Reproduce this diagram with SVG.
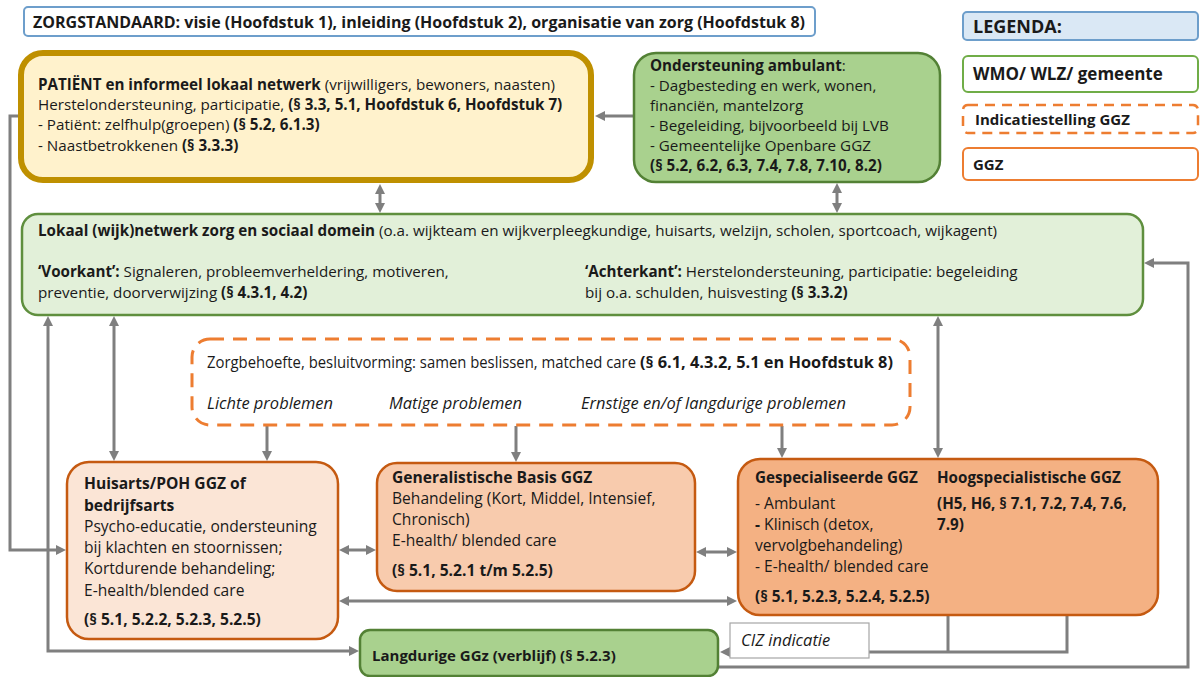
<svg xmlns="http://www.w3.org/2000/svg" width="1200" height="677" viewBox="0 0 1200 677">
<style>
text{font-family:"Open Sans","Liberation Sans",sans-serif;font-size:15.2px;fill:#1a1a1a}
.b{font-weight:bold}
.i{font-style:italic}
.m{font-size:15.6px}
.c{fill:none;stroke:#7f7f7f;stroke-width:3}
.ca{fill:none;stroke:#7f7f7f;stroke-width:3;marker-end:url(#ah)}
.cd{fill:none;stroke:#7f7f7f;stroke-width:3;marker-start:url(#ah);marker-end:url(#ah)}
.ggz{stroke:#c55a11;stroke-width:2.5}
.grn{fill:#a9d18e;stroke:#538135;stroke-width:2.5}
</style>
<defs>
<marker id="ah" markerUnits="userSpaceOnUse" markerWidth="11" markerHeight="10" refX="6" refY="5" orient="auto-start-reverse">
<path d="M0,0 L10,5 L0,10 z" fill="#7f7f7f"/>
</marker>
</defs>

<g id="connectors">
<path class="ca" d="M18,116 H10 V550 H62"/>
<path class="ca" d="M634,116 H599"/>
<path class="cd" d="M380,188 V209"/>
<path class="cd" d="M837,187 V209"/>
<path class="cd" d="M48,320 V651 H355"/>
<path class="cd" d="M114,320 V457"/>
<path class="ca" d="M267,426 V457"/>
<path class="ca" d="M516,426 V458"/>
<path class="ca" d="M782,426 V454"/>
<path class="cd" d="M938,320 V454"/>
<path class="cd" d="M343,550 H372"/>
<path class="cd" d="M700,552 H733"/>
<path class="cd" d="M343,601 H733"/>
<path class="c" d="M948,615 V652"/>
<path class="ca" d="M1067,615 V652 H724"/>
<path class="ca" d="M718,667 H1188 V263 H1148"/>
</g>

<g id="title">
<rect x="24" y="7" width="791" height="29" rx="4" fill="#fff" stroke="#6d9ecb" stroke-width="2"/>
<text x="33" y="28" class="b" style="font-size:16px" textLength="772" lengthAdjust="spacingAndGlyphs">ZORGSTANDAARD: visie (Hoofdstuk 1), inleiding (Hoofdstuk 2), organisatie van zorg (Hoofdstuk 8)</text>
</g>

<g id="legend-legenda">
<rect x="963" y="12" width="235" height="28" rx="4" fill="#dae8f5" stroke="#6d9ecb" stroke-width="2"/>
<text x="973" y="33" class="b" style="font-size:18px">LEGENDA:</text>
</g>
<g id="legend-wmo">
<rect x="963" y="56" width="235" height="36" rx="5" fill="#fff" stroke="#70ad47" stroke-width="2"/>
<text x="973" y="80" class="b" style="font-size:17px">WMO/ WLZ/ gemeente</text>
</g>
<g id="legend-indicatie">
<rect x="963" y="105" width="235" height="28" rx="5" fill="#fff" stroke="#ed7d31" stroke-width="2.5" stroke-dasharray="10,7"/>
<text x="975" y="125" class="b" style="font-size:15px">Indicatiestelling GGZ</text>
</g>
<g id="legend-ggz">
<rect x="963" y="148" width="235" height="32" rx="5" fill="#fff" stroke="#ed7d31" stroke-width="2"/>
<text x="973" y="170" class="b" style="font-size:15px">GGZ</text>
</g>

<g id="patient">
<rect x="21" y="53" width="570" height="127" rx="22" fill="#fff2cc" stroke="#bf9000" stroke-width="6"/>
<text x="38" y="90"><tspan class="b">PATIËNT en informeel lokaal netwerk</tspan> (vrijwilligers, bewoners, naasten)</text>
<text x="38" y="110">Herstelondersteuning, participatie, <tspan class="b">(§ 3.3, 5.1, Hoofdstuk 6, Hoofdstuk 7)</tspan></text>
<text x="38" y="130">- Patiënt: zelfhulp(groepen) <tspan class="b">(§ 5.2, 6.1.3)</tspan></text>
<text x="38" y="151">- Naastbetrokkenen <tspan class="b">(§ 3.3.3)</tspan></text>
</g>

<g id="ondersteuning">
<rect x="634" y="53" width="306" height="129" rx="22" class="grn"/>
<text x="650" y="71"><tspan class="b">Ondersteuning ambulant</tspan>:</text>
<text x="650" y="91">- Dagbesteding en werk, wonen,</text>
<text x="650" y="111">financiën, mantelzorg</text>
<text x="650" y="131">- Begeleiding, bijvoorbeeld bij LVB</text>
<text x="650" y="151">- Gemeentelijke Openbare GGZ</text>
<text x="650" y="171" class="b">(§ 5.2, 6.2, 6.3, 7.4, 7.8, 7.10, 8.2)</text>
</g>

<g id="lokaal">
<rect x="22" y="214" width="1121" height="101" rx="16" fill="#e2f0d9" stroke="#5f8f3e" stroke-width="2.5"/>
<text x="38" y="236"><tspan class="b">Lokaal (wijk)netwerk zorg en sociaal domein</tspan> (o.a. wijkteam en wijkverpleegkundige, huisarts, welzijn, scholen, sportcoach, wijkagent)</text>
<text x="38" y="277"><tspan class="b">‘Voorkant’:</tspan> Signaleren, probleemverheldering, motiveren,</text>
<text x="38" y="298">preventie, doorverwijzing <tspan class="b">(§ 4.3.1, 4.2)</tspan></text>
<text x="585" y="277"><tspan class="b">‘Achterkant’:</tspan> Herstelondersteuning, participatie: begeleiding</text>
<text x="585" y="298">bij o.a. schulden, huisvesting <tspan class="b">(§ 3.3.2)</tspan></text>
</g>

<g id="zorgbehoefte">
<rect x="192" y="339" width="718" height="86" rx="18" fill="#fff" stroke="#ed7d31" stroke-width="3" stroke-dasharray="14,9"/>
<text x="207" y="368" style="font-size:15.5px" textLength="429" lengthAdjust="spacingAndGlyphs">Zorgbehoefte, besluitvorming: samen beslissen, matched care</text>
<text x="640" y="368" class="b" style="font-size:15.5px" textLength="253" lengthAdjust="spacingAndGlyphs">(§ 6.1, 4.3.2, 5.1 en Hoofdstuk 8)</text>
<text x="207" y="409" class="i" style="font-size:16px" textLength="126" lengthAdjust="spacingAndGlyphs">Lichte problemen</text>
<text x="389" y="409" class="i" style="font-size:16px" textLength="133" lengthAdjust="spacingAndGlyphs">Matige problemen</text>
<text x="581" y="409" class="i" style="font-size:16px" textLength="265" lengthAdjust="spacingAndGlyphs">Ernstige en/of langdurige problemen</text>
</g>

<g id="huisarts">
<rect x="67" y="462" width="271" height="177" rx="22" fill="#fbe5d6" class="ggz"/>
<text x="84" y="489" class="b m">Huisarts/POH GGZ of</text>
<text x="84" y="511" class="b m">bedrijfsarts</text>
<text x="84" y="532" class="m">Psycho-educatie, ondersteuning</text>
<text x="84" y="553" class="m">bij klachten en stoornissen;</text>
<text x="84" y="574" class="m">Kortdurende behandeling;</text>
<text x="84" y="596" class="m">E-health/blended care</text>
<text x="84" y="625" class="b m">(§ 5.1, 5.2.2, 5.2.3, 5.2.5)</text>
</g>

<g id="generalistisch">
<rect x="377" y="463" width="318" height="128" rx="20" fill="#f8cbad" class="ggz"/>
<text x="392" y="483" class="b m">Generalistische Basis GGZ</text>
<text x="392" y="504" class="m">Behandeling (Kort, Middel, Intensief,</text>
<text x="392" y="525" class="m">Chronisch)</text>
<text x="392" y="546" class="m">E-health/ blended care</text>
<text x="392" y="576" class="b m">(§ 5.1, 5.2.1 t/m 5.2.5)</text>
</g>

<g id="gespecialiseerd">
<rect x="738" y="459" width="420" height="156" rx="22" fill="#f4b183" class="ggz"/>
<text x="755" y="483" class="b" style="font-size:15.2px">Gespecialiseerde GGZ</text>
<text x="937" y="483" class="b" style="font-size:15.2px">Hoogspecialistische GGZ</text>
<text x="755" y="509" class="m">- Ambulant</text>
<text x="937" y="509" class="b" style="font-size:15.2px">(H5, H6, § 7.1, 7.2, 7.4, 7.6,</text>
<text x="755" y="530" class="m"><tspan class="b">-</tspan> Klinisch (detox,</text>
<text x="937" y="530" class="b" style="font-size:15.2px">7.9)</text>
<text x="755" y="551" class="m">vervolgbehandeling)</text>
<text x="755" y="572" class="m">- E-health/ blended care</text>
<text x="755" y="602" class="b" style="font-size:15.4px">(§ 5.1, 5.2.3, 5.2.4, 5.2.5)</text>
</g>

<g id="ciz">
<rect x="730" y="623" width="139" height="35" fill="#fff" stroke="#a6a6a6" stroke-width="1.2"/>
<text x="741" y="646" class="i" style="font-size:16.5px">CIZ indicatie</text>
</g>

<g id="langdurig">
<rect x="360" y="630" width="358" height="46" rx="10" class="grn"/>
<text x="372" y="661" class="b" style="font-size:15px">Langdurige GGz (verblijf) (§ 5.2.3)</text>
</g>
</svg>
